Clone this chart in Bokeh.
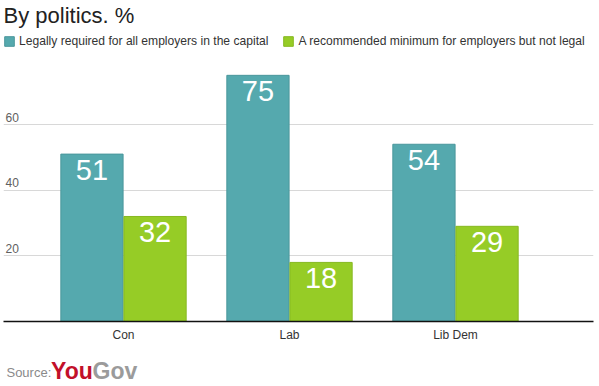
from bokeh.plotting import figure
from bokeh.models import Range1d, Label, Legend, LegendItem, FixedTicker, ColumnDataSource
from bokeh.layouts import column
from bokeh.core.properties import value
from bokeh.embed import file_html
from bokeh.resources import INLINE

categories = ["Con", "Lab", "Lib Dem"]
legal_required = [51, 75, 54]
recommended_min = [32, 18, 29]
series_names = ["Legally required for all employers in the capital",
                "A recommended minimum for employers but not legal"]
y_ticks = [20, 40, 60]

TEAL = "#55a9ae"
GREEN = "#96cc26"
FONT = "Liberation Sans"

W, H = 596, 345
BOTTOM = 24
X0, X1 = -0.7229, 2.8313
Y1 = 97.8
p = figure(width=W, height=H, output_backend="svg", toolbar_location=None,
           x_range=Range1d(X0, X1), y_range=Range1d(0, Y1),
           min_border_left=3, min_border_right=3, min_border_top=0,
           min_border_bottom=BOTTOM)
p.outline_line_color = None
p.background_fill_color = "white"
p.border_fill_color = "white"

idx = list(range(len(categories)))
src = ColumnDataSource(dict(
    x1=[i - 0.19 for i in idx], x2=[i + 0.19 for i in idx],
    v1=legal_required, v2=recommended_min,
    t1=[str(v) for v in legal_required], t2=[str(v) for v in recommended_min]))

r1 = p.vbar(x="x1", top="v1", width=0.375, source=src, fill_color=TEAL,
            line_color="#4a979c", line_width=1)
r2 = p.vbar(x="x2", top="v2", width=0.375, source=src, fill_color=GREEN,
            line_color="#86b820", line_width=1)

for xc, yc, tc in (("x1", "v1", "t1"), ("x2", "v2", "t2")):
    p.text(x=xc, y=yc, text=tc, source=src, text_color="white",
           text_font=value(FONT), text_font_size="29px", text_align="center",
           text_baseline="top", y_offset=6)

# axes
p.yaxis.visible = False
p.xaxis.ticker = FixedTicker(ticks=idx)
p.xaxis.major_label_overrides = {i: c for i, c in zip(idx, categories)}
p.xaxis.major_tick_line_color = None
p.xaxis.minor_tick_line_color = None
p.xaxis.axis_line_color = "#111111"
p.xaxis.axis_line_width = 1.5
p.xaxis.major_label_text_font = FONT
p.xaxis.major_label_text_font_size = "12px"
p.xaxis.major_label_text_color = "#333333"
p.xaxis.major_label_standoff = 0
p.xgrid.visible = False
p.ygrid.ticker = FixedTicker(ticks=y_ticks)
p.ygrid.grid_line_color = "#d8d8d8"
p.ygrid.grid_line_width = 1

# y tick labels, Highcharts style (left aligned, above gridline)
p.text(x=[X0] * len(y_ticks), y=y_ticks, text=[str(t) for t in y_ticks],
       text_font=value(FONT), text_font_size="12px", text_color="#606060",
       text_align="left", text_baseline="bottom", x_offset=2, y_offset=-3)

# legend
legend = Legend(items=[LegendItem(label=series_names[0], renderers=[r1]),
                       LegendItem(label=series_names[1], renderers=[r2])],
                orientation="horizontal", location=(0, 273),
                glyph_width=12, glyph_height=12, label_standoff=4, spacing=14,
                padding=0, margin=0, border_line_color=None,
                background_fill_alpha=0, label_text_font=FONT,
                label_text_font_size="12.1px", label_text_color="#333333",
                label_height=12)
p.add_layout(legend)

# title
p.add_layout(Label(x=X0, y=Y1, y_offset=-2, text="By politics. %",
                   text_font=FONT, text_font_size="22px", text_color="#222222",
                   text_baseline="top"))

# source line
SH = 40
s = figure(width=W, height=SH, output_backend="svg", toolbar_location=None,
           x_range=Range1d(0, W), y_range=Range1d(0, SH),
           min_border=0)
s.axis.visible = False
s.grid.visible = False
s.outline_line_color = None
s.add_layout(Label(x=3, y=13, text="Source:", text_font=FONT,
                   text_font_size="13px", text_color="#8a8a8a", text_baseline="middle"))
s.add_layout(Label(x=48, y=15, text="You", text_font=FONT,
                   text_font_size="23px", text_font_style="bold", text_color="#c2102a",
                   text_baseline="middle"))
s.add_layout(Label(x=90, y=15, text="Gov", text_font=FONT,
                   text_font_size="23px", text_font_style="bold", text_color="#9b9b9b",
                   text_baseline="middle"))

open("out.html", "w").write(file_html(column(p, s, spacing=0), INLINE))
